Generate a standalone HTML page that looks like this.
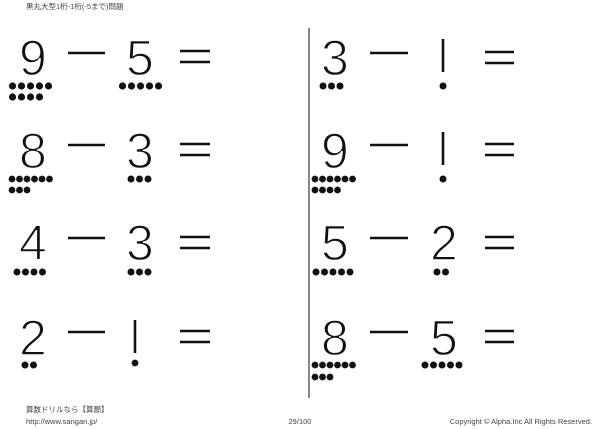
<!DOCTYPE html>
<html><head><meta charset="utf-8"><style>
html,body{margin:0;padding:0;background:#fff;width:600px;height:429px;overflow:hidden}
svg{display:block}
.d{font-family:"Liberation Sans",sans-serif;font-size:50px;fill:#111;stroke:#fff;stroke-width:1.4px}
.s{font-family:"Liberation Sans","Noto Sans CJK JP",sans-serif;font-size:7.5px;fill:#444}
</style></head><body>
<svg width="600" height="429" viewBox="0 0 600 429" xmlns="http://www.w3.org/2000/svg">
<text class="s" x="26" y="9">黒丸大型1桁-1桁(-5まで)問題</text>
<line x1="309" y1="28" x2="309" y2="398" stroke="#111" stroke-width="1"/>
<g fill="#111" stroke="#111" stroke-width="2.6">
<line x1="68" y1="53" x2="105" y2="53"/><line x1="180" y1="51" x2="210" y2="51"/><line x1="180" y1="62" x2="210" y2="62"/>
<line x1="68" y1="145" x2="105" y2="145"/><line x1="180" y1="144" x2="210" y2="144"/><line x1="180" y1="155" x2="210" y2="155"/>
<line x1="68" y1="238" x2="105" y2="238"/><line x1="180" y1="237" x2="210" y2="237"/><line x1="180" y1="248" x2="210" y2="248"/>
<line x1="68" y1="332" x2="105" y2="332"/><line x1="180" y1="331" x2="210" y2="331"/><line x1="180" y1="342" x2="210" y2="342"/>
<line x1="370" y1="53" x2="408" y2="53"/><line x1="485" y1="52" x2="514" y2="52"/><line x1="485" y1="63" x2="514" y2="63"/>
<line x1="370" y1="145" x2="408" y2="145"/><line x1="485" y1="144" x2="514" y2="144"/><line x1="485" y1="155" x2="514" y2="155"/>
<line x1="370" y1="238" x2="408" y2="238"/><line x1="485" y1="237" x2="514" y2="237"/><line x1="485" y1="248" x2="514" y2="248"/>
<line x1="370" y1="332" x2="408" y2="332"/><line x1="485" y1="331" x2="514" y2="331"/><line x1="485" y1="342" x2="514" y2="342"/>
<line x1="135" y1="320" x2="135" y2="353"/><circle cx="135" cy="363" r="3.4" stroke="none"/>
<line x1="443" y1="39" x2="443" y2="72"/><circle cx="443" cy="86" r="3.5" stroke="none"/>
<line x1="443" y1="132" x2="443" y2="165"/><circle cx="443" cy="179" r="3.5" stroke="none"/>
</g>
<g class="d">
<text x="19" y="75">9</text><text x="126" y="75">5</text>
<text x="19" y="168">8</text><text x="126" y="168">3</text>
<text x="19" y="260">4</text><text x="126" y="260">3</text>
<text x="19" y="355">2</text>
<text x="321" y="75">3</text>
<text x="321" y="168">9</text>
<text x="321" y="260">5</text><text x="430" y="260">2</text>
<text x="321" y="355">8</text><text x="430" y="355">5</text>
</g>
<g fill="#111">
<circle cx="12.5" cy="86" r="3.6"/><circle cx="21.5" cy="86" r="3.6"/><circle cx="30.5" cy="86" r="3.6"/><circle cx="39.5" cy="86" r="3.6"/><circle cx="48.5" cy="86" r="3.6"/>
<circle cx="12.5" cy="97" r="3.6"/><circle cx="21.5" cy="97" r="3.6"/><circle cx="30.5" cy="97" r="3.6"/><circle cx="39.5" cy="97" r="3.6"/>
<circle cx="122.5" cy="86" r="3.6"/><circle cx="131.5" cy="86" r="3.6"/><circle cx="140.5" cy="86" r="3.6"/><circle cx="149.5" cy="86" r="3.6"/><circle cx="158.5" cy="86" r="3.6"/>
<circle cx="12" cy="179" r="3.4"/><circle cx="19.5" cy="179" r="3.4"/><circle cx="27" cy="179" r="3.4"/><circle cx="34.5" cy="179" r="3.4"/><circle cx="42" cy="179" r="3.4"/><circle cx="49.5" cy="179" r="3.4"/>
<circle cx="12" cy="190" r="3.4"/><circle cx="19.5" cy="190" r="3.4"/><circle cx="27" cy="190" r="3.4"/>
<circle cx="131" cy="179" r="3.5"/><circle cx="139.5" cy="179" r="3.5"/><circle cx="148" cy="179" r="3.5"/>
<circle cx="17" cy="272" r="3.5"/><circle cx="25.5" cy="272" r="3.5"/><circle cx="34" cy="272" r="3.5"/><circle cx="42.5" cy="272" r="3.5"/>
<circle cx="131" cy="272" r="3.5"/><circle cx="139.5" cy="272" r="3.5"/><circle cx="148" cy="272" r="3.5"/>
<circle cx="25" cy="365" r="3.5"/><circle cx="33.5" cy="365" r="3.5"/>
<circle cx="323" cy="86" r="3.5"/><circle cx="331.5" cy="86" r="3.5"/><circle cx="340" cy="86" r="3.5"/>
<circle cx="315" cy="179" r="3.4"/><circle cx="322.5" cy="179" r="3.4"/><circle cx="330" cy="179" r="3.4"/><circle cx="337.5" cy="179" r="3.4"/><circle cx="345" cy="179" r="3.4"/><circle cx="352.5" cy="179" r="3.4"/>
<circle cx="315" cy="190" r="3.4"/><circle cx="322.5" cy="190" r="3.4"/><circle cx="330" cy="190" r="3.4"/><circle cx="337.5" cy="190" r="3.4"/>
<circle cx="316" cy="272" r="3.5"/><circle cx="324.5" cy="272" r="3.5"/><circle cx="333" cy="272" r="3.5"/><circle cx="341.5" cy="272" r="3.5"/><circle cx="350" cy="272" r="3.5"/>
<circle cx="437" cy="272" r="3.5"/><circle cx="445.5" cy="272" r="3.5"/>
<circle cx="315" cy="365" r="3.4"/><circle cx="322.5" cy="365" r="3.4"/><circle cx="330" cy="365" r="3.4"/><circle cx="337.5" cy="365" r="3.4"/><circle cx="345" cy="365" r="3.4"/><circle cx="352.5" cy="365" r="3.4"/>
<circle cx="315" cy="377" r="3.4"/><circle cx="322.5" cy="377" r="3.4"/><circle cx="330" cy="377" r="3.4"/>
<circle cx="425" cy="365" r="3.5"/><circle cx="433.5" cy="365" r="3.5"/><circle cx="442" cy="365" r="3.5"/><circle cx="450.5" cy="365" r="3.5"/><circle cx="459" cy="365" r="3.5"/>
</g>
<text class="s" x="26" y="412">算数ドリルなら【算願】</text>
<text class="s" x="26" y="424">http://www.sangan.jp/</text>
<text class="s" x="300" y="424" text-anchor="middle">29/100</text>
<text class="s" x="592" y="424" text-anchor="end">Copyright © Alpha.Inc All Rights Reserved.</text>
</svg>
</body></html>
